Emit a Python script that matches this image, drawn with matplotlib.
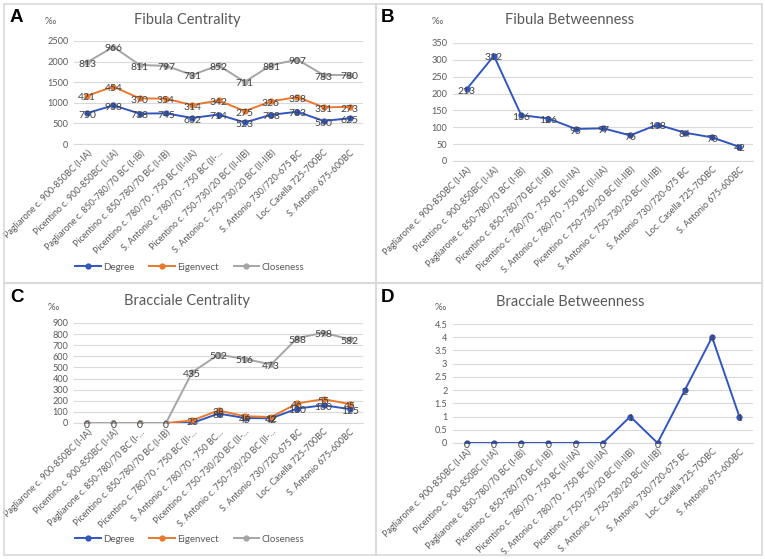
import numpy as np
import matplotlib
matplotlib.use('Agg')
import matplotlib.pyplot as plt
from matplotlib.patches import Rectangle
from matplotlib.lines import Line2D

plt.rcParams['font.family'] = ['Lato', 'DejaVu Sans']

categories = ['Pagliarone c. 900-850BC (I-IA)', 'Picentino c. 900-850BC (I-IA)',
              'Pagliarone c. 850-780/70 BC (I-IB)', 'Picentino c. 850-780/70 BC (I-IB)',
              'Picentino c. 780/70 - 750 BC (II-IIA)', 'S. Antonio c. 780/70 - 750 BC (II-IIA)',
              'Picentino c. 750-730/20 BC (II-IIB)', 'S. Antonio c. 750-730/20 BC (II-IIB)',
              'S. Antonio 730/720-675 BC', 'Loc. Casella 725-700BC', 'S. Antonio 675-600BC']
cats_a = categories[:5] + ['S. Antonio c. 780/70 - 750 BC (II-...'] + categories[6:]
cats_c = [categories[0], categories[1], 'Pagliarone c. 850-780/70 BC (I-...', categories[3],
          'Picentino c. 780/70 - 750 BC (II-...', 'S. Antonio c. 780/70 - 750 BC...',
          'Picentino c. 750-730/20 BC (II-...', 'S. Antonio c. 750-730/20 BC (II-...',
          categories[8], categories[9], categories[10]]

fib_degree = [750, 938, 738, 745, 632, 714, 523, 708, 783, 560, 625]
fib_eigen = [421, 454, 370, 354, 314, 342, 275, 326, 358, 331, 273]
fib_close = [813, 966, 811, 797, 731, 852, 711, 881, 907, 783, 780]
fib_betw = [213, 312, 136, 126, 95, 97, 76, 108, 84, 70, 42]

bra_degree = [0, 0, 0, 0, 0, 85, 45, 42, 130, 160, 125]
bra_eigen = [0, 0, 0, 0, 23, 28, 16, 12, 46, 55, 45]
bra_close = [0, 0, 0, 0, 435, 502, 516, 473, 588, 598, 582]
bra_betw = [0, 0, 0, 0, 0, 0, 1, 0, 2, 4, 1]

series_names = ['Degree', 'Eigenvect', 'Closeness']
colors = ['#3356bd', '#e8792f', '#a5a5a5']
grid_c = '#d9d9d9'
text_c = '#595959'

W, H = 765, 559
fig = plt.figure(figsize=(W / 100, H / 100), dpi=100)


def px_axes(l, t, r, b):
    return fig.add_axes([l / W, 1 - b / H, (r - l) / W, (b - t) / H])


def fig_text(x, y, s, **kw):
    fig.text(x / W, 1 - y / H, s, **kw)


# panel frames
for (l, t, r, b) in [(4, 4, 376, 283), (376, 4, 762, 283), (4, 283, 376, 555), (376, 283, 762, 555)]:
    fig.add_artist(Rectangle((l / W, 1 - b / H), (r - l) / W, (b - t) / H,
                             transform=fig.transFigure, fill=False, ec=grid_c, lw=1.2))


def style(ax, ymax, step, labels):
    x = np.arange(len(labels))
    ax.set_xlim(-0.5, len(labels) - 0.5)
    ax.set_ylim(0, ymax)
    ax.set_yticks(np.arange(0, ymax + step / 2, step))
    ax.yaxis.set_major_formatter(matplotlib.ticker.FuncFormatter(lambda v, p: '%g' % v))
    ax.grid(axis='y', color=grid_c, lw=0.8)
    ax.set_axisbelow(True)
    for s in ['top', 'right', 'left']:
        ax.spines[s].set_visible(False)
    ax.spines['bottom'].set_color(grid_c)
    ax.tick_params(axis='both', length=0, labelsize=6.6, colors=text_c, pad=4)
    ax.set_xticks(x)
    ax.set_xticklabels(labels, rotation=45, ha='right', rotation_mode='anchor', fontsize=6.5)
    ax.tick_params(axis='x', pad=3)


def plot_series(ax, values, labels, color, skip_zero=False):
    x = np.arange(len(values))
    ax.plot(x, values, color=color, lw=1.4, marker='o', ms=3.5, zorder=3)
    for xi, yi, lab in zip(x, values, labels):
        if skip_zero and lab == 0:
            continue
        ax.annotate(str(lab), (xi, yi), xytext=(0, -1.5), textcoords='offset points',
                    ha='center', va='center', fontsize=7.5, color='#404040', zorder=4)


handles = [Line2D([], [], color=c, lw=1.4, marker='o', ms=3.5) for c in colors]


def legend(y):
    fig.legend(handles, series_names, loc='center', bbox_to_anchor=(190 / W, 1 - y / H),
               ncol=3, frameon=False, fontsize=7, labelcolor=text_c, handlelength=2.6,
               columnspacing=1.5, handletextpad=0.3)


def letter(x, y, s):
    fig_text(x, y, s, ha='left', va='center', fontsize=13.5, fontweight='bold',
             family=['Liberation Sans', 'DejaVu Sans'])


# A: stacked centrality (fibula)
ax = px_axes(74, 41, 363, 144)
style(ax, 2500, 500, cats_a)
stack = np.cumsum([fib_degree, fib_eigen, fib_close], axis=0)
for vals, labs, c in zip(stack, [fib_degree, fib_eigen, fib_close], colors):
    plot_series(ax, vals, labs, c)
legend(267)
fig_text(187, 20, 'Fibula Centrality', ha='center', va='center', fontsize=10.5, color=text_c)
fig_text(50, 22, '‰', ha='center', va='center', fontsize=7, color=text_c)
letter(10, 18, 'A')

# B: betweenness (fibula)
ax = px_axes(453, 43, 753, 161)
style(ax, 350, 50, categories)
plot_series(ax, fib_betw, fib_betw, colors[0])
fig_text(570, 20, 'Fibula Betweenness', ha='center', va='center', fontsize=10.5, color=text_c)
fig_text(437, 22, '‰', ha='center', va='center', fontsize=7, color=text_c)
letter(381, 18, 'B')

# C: stacked centrality (bracciale)
ax = px_axes(74, 323, 363, 423)
style(ax, 900, 100, cats_c)
stack = np.cumsum([bra_degree, bra_eigen, bra_close], axis=0)
for i, (vals, labs, c) in enumerate(zip(stack, [bra_degree, bra_eigen, bra_close], colors)):
    plot_series(ax, vals, labs, c, skip_zero=(i < 2))
legend(539)
fig_text(187, 301, 'Bracciale Centrality', ha='center', va='center', fontsize=10.5, color=text_c)
fig_text(53, 307, '‰', ha='center', va='center', fontsize=7, color=text_c)
letter(10, 297, 'C')

# D: betweenness (bracciale)
ax = px_axes(453, 324, 753, 443)
style(ax, 4.5, 0.5, categories)
plot_series(ax, bra_betw, bra_betw, colors[0])
fig_text(570, 302, 'Bracciale Betweenness', ha='center', va='center', fontsize=10.5, color=text_c)
fig_text(440, 308, '‰', ha='center', va='center', fontsize=7, color=text_c)
letter(381, 297, 'D')

fig.savefig('out.png', dpi=100, facecolor='white')
